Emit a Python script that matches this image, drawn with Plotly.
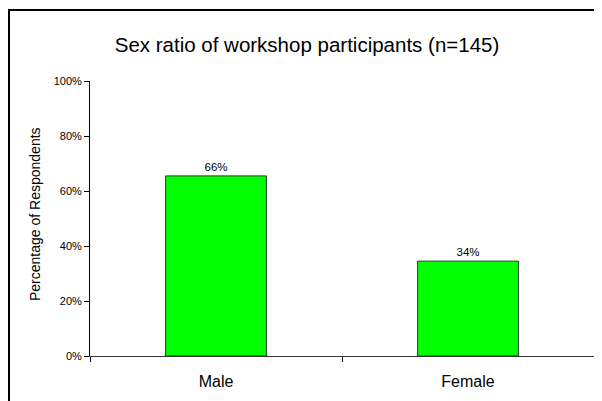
import plotly.graph_objects as go

categories = ["Male", "Female"]
values = [0.655, 0.345]
labels = ["66%", "34%"]
title = "Sex ratio of workshop participants (n=145)"
y_title = "Percentage of Respondents"

# page has an 8px body margin, so figure coords = page coords - 8
W, H = 594, 393
L, R, T, B = 82, 8, 73, 45
pw, ph = W - L - R, H - T - B

FONT = "Liberation Sans, Arial"

fig = go.Figure(go.Bar(
    x=categories, y=values, text=labels, textposition="outside",
    textfont=dict(size=11.5, color="black", family=FONT),
    marker=dict(color="#00ff00", line=dict(color="#333333", width=1)),
    width=0.4, cliponaxis=False,
))

def px_x(x):
    return (x - L) / pw

def px_y(y):
    return (H - B - y) / ph

fig.add_shape(type="path", xref="paper", yref="paper",
              path=f"M {px_x(1)} {px_y(450)} L {px_x(1)} {px_y(2)} L {px_x(650)} {px_y(2)}",
              line=dict(color="black", width=2))

fig.add_annotation(text=y_title, textangle=-90, xref="paper", yref="paper",
                   x=px_x(27), y=px_y(206), xanchor="center", yanchor="middle",
                   showarrow=False, font=dict(size=14, color="black", family=FONT))

fig.update_layout(
    width=W, height=H,
    margin=dict(l=L, r=R, t=T, b=B),
    paper_bgcolor="white", plot_bgcolor="white",
    font=dict(family=FONT, color="black"),
    title=dict(text=title, x=299 / W, xanchor="center", y=1 - 37 / H, yanchor="middle",
               font=dict(size=20.5, color="black")),
    showlegend=False,
)
fig.update_xaxes(type="category", range=[-0.5, 1.5], tickson="boundaries",
                 ticks="outside", ticklen=5, tickcolor="black",
                 showline=True, linecolor="#333333", linewidth=1,
                 showgrid=False, tickfont=dict(size=16), zeroline=False,
                 ticklabelstandoff=11)
fig.update_yaxes(range=[0, 1], tickvals=[0, 0.2, 0.4, 0.6, 0.8, 1.0], tickformat=".0%",
                 ticks="outside", ticklen=5, tickcolor="black",
                 showline=True, linecolor="black", linewidth=1,
                 showgrid=False, zeroline=False, tickfont=dict(size=11))

fig.write_html("out.html")
